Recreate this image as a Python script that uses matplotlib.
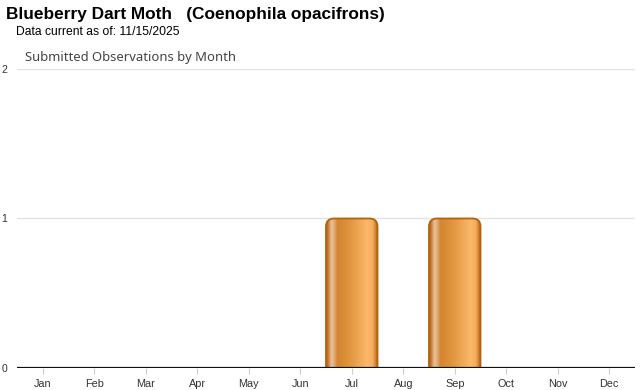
import matplotlib
matplotlib.use("Agg")
import matplotlib.pyplot as plt
import numpy as np
from matplotlib.patches import FancyBboxPatch
from matplotlib.colors import LinearSegmentedColormap

months = ["Jan", "Feb", "Mar", "Apr", "May", "Jun", "Jul", "Aug", "Sep", "Oct", "Nov", "Dec"]
counts = [0, 0, 0, 0, 0, 0, 1, 0, 1, 0, 0, 0]
yticks = [0, 1, 2]

title = "Blueberry Dart Moth   (Coenophila opacifrons)"
subtitle = "Data current as of: 11/15/2025"
chart_title = "Submitted Observations by Month"

W, H = 640, 390
fig = plt.figure(figsize=(W / 100, H / 100), dpi=100)
ax = fig.add_axes([17 / W, (H - 368) / H, (635 - 17) / W, (368 - 69) / H])

x = np.arange(len(months))
ax.set_xlim(-0.5, len(months) - 0.5)
ax.set_ylim(0, 2)

# gridlines
for v in yticks[1:]:
    ax.axhline(v, color="#e3e3e3", lw=1, zorder=0)
ax.axhline(0, color="#111111", lw=1.6, zorder=5)

for s in ax.spines.values():
    s.set_visible(False)

ax.set_yticks(yticks)
ax.set_yticklabels([str(v) for v in yticks], fontsize=7.5, color="#333333", family="Liberation Sans")
ax.tick_params(axis="y", length=0, pad=7)
ax.set_xticks(x)
ax.set_xticklabels(months, fontsize=7.8, color="#333333", family="Liberation Sans")
ax.tick_params(axis="x", length=4, color="#cccccc", pad=4)

cmap = LinearSegmentedColormap.from_list("bar", [
    (0.00, "#b0600c"),
    (0.04, "#c8782a"),
    (0.10, "#e6c29a"),
    (0.15, "#e2b080"),
    (0.22, "#d3852f"),
    (0.45, "#e0953e"),
    (0.80, "#fbb86a"),
    (0.90, "#f6ad5c"),
    (0.95, "#d4883a"),
    (1.00, "#b0600c"),
])
grad = np.linspace(0, 1, 256).reshape(1, -1)

bw = 1.0
xpix = 1 / ((635 - 17) / 12)
ypix = 2 / (368 - 69)
r = 8 * xpix
asp = ypix / xpix
for xi, c in zip(x, counts):
    if c <= 0:
        continue
    x0 = xi - bw / 2
    patch = FancyBboxPatch((x0, -0.2), bw, c + 0.2,
                           boxstyle=f"round,pad=0,rounding_size={r}",
                           mutation_aspect=asp,
                           facecolor="none", edgecolor="#b3620d", lw=1.3, zorder=3)
    ax.add_patch(patch)
    im = ax.imshow(grad, cmap=cmap, aspect="auto", extent=(x0, x0 + bw, -0.2, c),
                   zorder=2, interpolation="bilinear")
    im.set_clip_path(patch)

ax.set_xlim(-0.5, len(months) - 0.5)
ax.set_ylim(0, 2)

fig.text(6 / W, 1 - 15 / H, title, fontsize=12.4, fontweight="bold", family="Liberation Sans",
         va="center", ha="left", color="#000000")
fig.text(16 / W, 1 - 32 / H, subtitle, fontsize=8.7, family="Liberation Sans",
         va="center", ha="left", color="#000000")
fig.text(25 / W, 1 - 58 / H, chart_title, fontsize=9.4, family="Noto Sans",
         va="center", ha="left", color="#444444")

fig.savefig("out.png", dpi=100)
